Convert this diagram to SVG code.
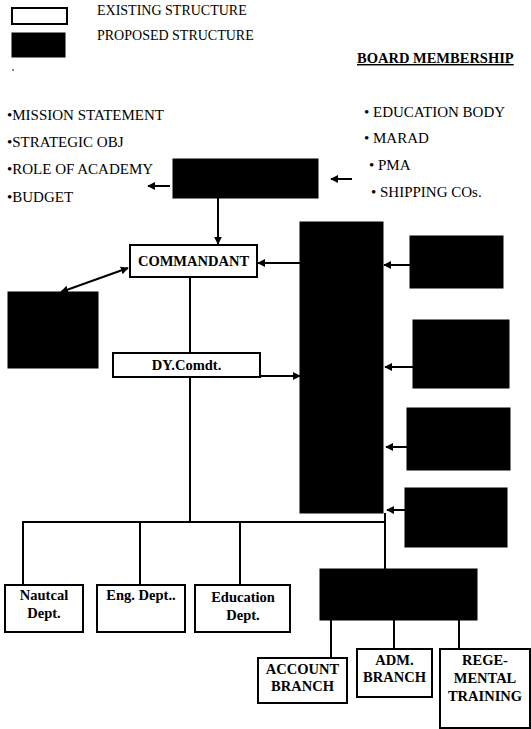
<svg xmlns="http://www.w3.org/2000/svg" width="531" height="729" viewBox="0 0 531 729">
<style>
.t{font-family:"Liberation Serif","Times New Roman",serif;fill:#000}
.r{font-size:15px}
.l{font-size:14px}
.b{font-size:14.5px;font-weight:bold}
.wb{fill:#fff;stroke:#000;stroke-width:2}
.bb{fill:#000;stroke:#000;stroke-width:1}
.c{fill:none;stroke:#000;stroke-width:2}
</style>
<defs>
<marker id="ah" viewBox="0 0 10 10" refX="9" refY="5" markerWidth="4" markerHeight="4" orient="auto-start-reverse">
<path d="M0,0 L10,5 L0,10 z" fill="#000"/>
</marker>
</defs>
<g id="legend">
<rect class="wb" x="12" y="8" width="55" height="16"/>
<rect class="bb" x="12" y="33" width="53" height="24"/>
<text class="t l" x="97" y="15">EXISTING STRUCTURE</text>
<text class="t l" x="97" y="40">PROPOSED STRUCTURE</text>
<circle cx="13" cy="70" r="0.8" fill="#000"/>
</g>
<g id="board-title">
<text class="t b" x="357" y="63" text-decoration="underline">BOARD MEMBERSHIP</text>
</g>
<g id="board-members">
<text class="t r" x="364" y="117">• EDUCATION BODY</text>
<text class="t r" x="364" y="143">• MARAD</text>
<text class="t r" x="369" y="170">• PMA</text>
<text class="t r" x="371" y="197">• SHIPPING COs.</text>
</g>
<g id="board-roles">
<text class="t r" x="7" y="120">•MISSION STATEMENT</text>
<text class="t r" x="7" y="147">•STRATEGIC OBJ</text>
<text class="t r" x="7" y="174">•ROLE OF ACADEMY</text>
<text class="t r" x="7" y="202">•BUDGET</text>
</g>
<g id="board">
<rect class="bb" x="173" y="159" width="145" height="39"/>
</g>
<g id="commandant">
<rect class="wb" x="130" y="245" width="127" height="32"/>
<text class="t b" x="193.5" y="266" text-anchor="middle">COMMANDANT</text>
</g>
<g id="left-proposed">
<rect class="bb" x="8" y="292" width="90" height="76"/>
</g>
<g id="dy-comdt">
<rect class="wb" x="113" y="353" width="147" height="24"/>
<text class="t b" x="186.5" y="370" text-anchor="middle">DY.Comdt.</text>
</g>
<g id="central-proposed">
<rect class="bb" x="300" y="222" width="83" height="291"/>
</g>
<g id="right-proposed-1"><rect class="bb" x="410" y="236" width="93" height="52"/></g>
<g id="right-proposed-2"><rect class="bb" x="413" y="320" width="96" height="68"/></g>
<g id="right-proposed-3"><rect class="bb" x="407" y="408" width="103" height="62"/></g>
<g id="right-proposed-4"><rect class="bb" x="405" y="488" width="102" height="59"/></g>
<g id="nautcal">
<rect class="wb" x="5" y="585" width="78" height="47"/>
<text class="t b" x="44" y="600" text-anchor="middle">Nautcal</text>
<text class="t b" x="44" y="618" text-anchor="middle">Dept.</text>
</g>
<g id="eng">
<rect class="wb" x="97" y="585" width="88" height="47"/>
<text class="t b" x="141" y="600" text-anchor="middle">Eng. Dept..</text>
</g>
<g id="education">
<rect class="wb" x="195" y="585" width="95" height="47"/>
<text class="t b" x="243" y="602" text-anchor="middle">Education</text>
<text class="t b" x="243" y="620" text-anchor="middle">Dept.</text>
</g>
<g id="bottom-proposed">
<rect class="bb" x="320" y="569" width="157" height="51"/>
</g>
<g id="account">
<rect class="wb" x="258" y="658" width="89" height="45"/>
<text class="t b" x="302.5" y="674" text-anchor="middle">ACCOUNT</text>
<text class="t b" x="302.5" y="691" text-anchor="middle">BRANCH</text>
</g>
<g id="adm">
<rect class="wb" x="357" y="649" width="75" height="48"/>
<text class="t b" x="394.5" y="665" text-anchor="middle">ADM.</text>
<text class="t b" x="394.5" y="682" text-anchor="middle">BRANCH</text>
</g>
<g id="regemental">
<rect class="wb" x="440" y="649" width="90" height="79"/>
<text class="t b" x="485" y="665" text-anchor="middle">REGE-</text>
<text class="t b" x="485" y="683" text-anchor="middle">MENTAL</text>
<text class="t b" x="485" y="701" text-anchor="middle">TRAINING</text>
</g>
<g id="connectors">
<line class="c" x1="170" y1="186" x2="148" y2="186" marker-end="url(#ah)"/>
<line class="c" x1="352" y1="179" x2="331" y2="179" marker-end="url(#ah)"/>
<line class="c" x1="218" y1="198" x2="218" y2="244" stroke-width="1.3" marker-end="url(#ah)"/>
<line class="c" x1="300" y1="263" x2="258" y2="263" marker-end="url(#ah)"/>
<line class="c" x1="128" y1="268" x2="61" y2="292" marker-start="url(#ah)" marker-end="url(#ah)"/>
<line class="c" x1="190" y1="277" x2="190" y2="353"/>
<line class="c" x1="260" y1="376" x2="300" y2="376" marker-end="url(#ah)"/>
<line class="c" x1="410" y1="265" x2="384" y2="265" marker-end="url(#ah)"/>
<line class="c" x1="413" y1="367" x2="385" y2="367" marker-end="url(#ah)"/>
<line class="c" x1="407" y1="447" x2="386" y2="447" marker-end="url(#ah)"/>
<line class="c" x1="405" y1="510" x2="387" y2="510" marker-end="url(#ah)"/>
<line class="c" x1="190" y1="377" x2="190" y2="522"/>
<line class="c" x1="23" y1="522" x2="385" y2="522"/>
<line class="c" x1="23" y1="521" x2="23" y2="585"/>
<line class="c" x1="140" y1="521" x2="140" y2="585"/>
<line class="c" x1="240" y1="521" x2="240" y2="585"/>
<line class="c" x1="385" y1="513" x2="385" y2="569"/>
<line class="c" x1="331" y1="620" x2="331" y2="658"/>
<line class="c" x1="394" y1="620" x2="394" y2="649"/>
<line class="c" x1="459" y1="620" x2="459" y2="649"/>
</g>
</svg>
